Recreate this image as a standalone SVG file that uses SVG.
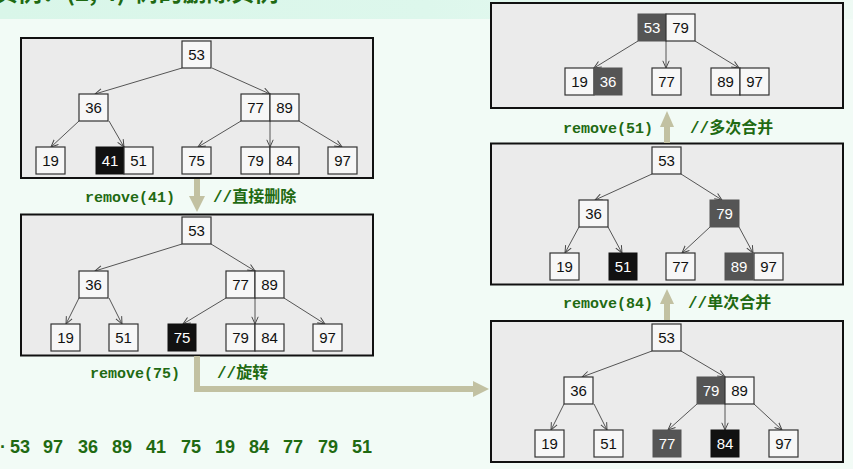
<svg xmlns="http://www.w3.org/2000/svg" width="853" height="469" viewBox="0 0 853 469">
<defs>
<linearGradient id="band" x1="0" y1="0" x2="1" y2="0">
<stop offset="0" stop-color="#d9f6e9"/>
<stop offset="0.5" stop-color="#ddf7ec"/>
<stop offset="1" stop-color="#eefaf4"/>
</linearGradient>
<marker id="ah" viewBox="0 0 10 10" refX="9.5" refY="5" markerWidth="8" markerHeight="8" orient="auto" markerUnits="userSpaceOnUse">
<path d="M0.5,1 L9.5,5 L0.5,9" fill="none" stroke="#444" stroke-width="1.2"/>
</marker>
<style>
.panel{fill:#ebebeb;stroke:#111;stroke-width:2}
.k{fill:#f7f7f7;stroke:#333;stroke-width:1.2}
.kd{fill:#555;stroke:#555;stroke-width:1}
.kb{fill:#111;stroke:#111;stroke-width:1}
.t{font-family:"Liberation Sans",Arial,sans-serif;font-size:15px;fill:#111;text-anchor:middle}
.tw{font-family:"Liberation Sans",Arial,sans-serif;font-size:15px;fill:#fff;text-anchor:middle}
.e{fill:none;stroke:#555;stroke-width:1;marker-end:url(#ah)}
.big{fill:none;stroke:#c2c1a2;stroke-width:6}
.bighead{fill:#c2c1a2}
.lbl{font-family:"Liberation Mono","Courier New",monospace;font-size:15px;font-weight:bold;fill:#1f6a12}
.cm{font-family:"Liberation Mono","Noto Sans CJK SC",monospace;font-size:16px;font-weight:bold;fill:#1f6a12}
.seq{font-family:"Liberation Sans",Arial,sans-serif;font-size:18px;font-weight:bold;fill:#1f6a12}
</style>
</defs>

<rect x="0" y="0" width="853" height="469" fill="#f2fbf6"/>
<rect x="0" y="0" width="853" height="19" fill="url(#band)"/>
<text x="-6" y="0.5" font-family="'Noto Sans CJK SC',sans-serif" font-size="24" font-weight="bold" fill="#1f6a12">实例：(2, 4)-树的删除实例</text>

<!-- panels -->
<g id="panels">
<rect class="panel" x="21" y="38" width="352" height="140"/>
<rect class="panel" x="21" y="214.5" width="352" height="141"/>
<rect class="panel" x="491" y="3" width="352" height="105"/>
<rect class="panel" x="491" y="143.5" width="352" height="141"/>
<rect class="panel" x="491" y="321" width="352" height="141"/>
</g>

<!-- connectors -->
<g id="connectors">
<!-- left panel 1 -->
<line class="e" x1="182" y1="68" x2="95" y2="94"/>
<line class="e" x1="212" y1="68" x2="270" y2="94"/>
<line class="e" x1="79" y1="121" x2="51" y2="147"/>
<line class="e" x1="109" y1="121" x2="124" y2="147"/>
<line class="e" x1="241" y1="121" x2="198" y2="147"/>
<line class="e" x1="270" y1="121" x2="270" y2="147"/>
<line class="e" x1="299" y1="121" x2="342" y2="147"/>
<!-- left panel 2 -->
<line class="e" x1="182" y1="244" x2="95" y2="271"/>
<line class="e" x1="211" y1="244" x2="255" y2="271"/>
<line class="e" x1="79" y1="298" x2="66" y2="324"/>
<line class="e" x1="109" y1="298" x2="122" y2="324"/>
<line class="e" x1="226" y1="298" x2="183" y2="324"/>
<line class="e" x1="255" y1="298" x2="255" y2="324"/>
<line class="e" x1="284" y1="298" x2="325" y2="324"/>
<!-- right top -->
<line class="e" x1="638" y1="41" x2="594" y2="68"/>
<line class="e" x1="666" y1="41" x2="666" y2="68"/>
<line class="e" x1="695" y1="41" x2="739" y2="68"/>
<!-- right middle -->
<line class="e" x1="652" y1="174" x2="595" y2="200"/>
<line class="e" x1="681" y1="174" x2="722" y2="200"/>
<line class="e" x1="579" y1="227" x2="565" y2="253"/>
<line class="e" x1="608" y1="227" x2="622" y2="253"/>
<line class="e" x1="710" y1="227" x2="682" y2="253"/>
<line class="e" x1="739" y1="227" x2="753" y2="253"/>
<!-- right bottom -->
<line class="e" x1="652" y1="351" x2="582" y2="377"/>
<line class="e" x1="681" y1="351" x2="725" y2="377"/>
<line class="e" x1="564" y1="404" x2="551" y2="430"/>
<line class="e" x1="594" y1="404" x2="607" y2="430"/>
<line class="e" x1="697" y1="404" x2="668" y2="430"/>
<line class="e" x1="725" y1="404" x2="725" y2="430"/>
<line class="e" x1="754" y1="404" x2="782" y2="430"/>
<!-- big step arrows -->
<line class="big" x1="197" y1="179" x2="197" y2="198"/>
<polygon class="bighead" points="189,196 205,196 197,212"/>
<polyline class="big" points="197,356 197,389 474,389"/>
<polygon class="bighead" points="473,381 473,397 489,389"/>
<line class="big" x1="667" y1="320" x2="667" y2="302"/>
<polygon class="bighead" points="660,304 674,304 667,289"/>
<line class="big" x1="667" y1="143" x2="667" y2="125"/>
<polygon class="bighead" points="660,127 674,127 667,111"/>
</g>

<!-- left panel 1 nodes -->
<g id="L1-53"><rect class="k" x="182" y="41" width="29" height="27"/><text class="t" x="196.5" y="59.5">53</text></g>
<g id="L1-36"><rect class="k" x="79" y="94" width="29" height="27"/><text class="t" x="93.5" y="112.5">36</text></g>
<g id="L1-77-89"><rect class="k" x="241" y="94" width="29" height="27"/><rect class="k" x="270" y="94" width="29" height="27"/><text class="t" x="255.5" y="112.5">77</text><text class="t" x="284.5" y="112.5">89</text></g>
<g id="L1-19"><rect class="k" x="36" y="147" width="29" height="27"/><text class="t" x="50.5" y="165.5">19</text></g>
<g id="L1-41-51"><rect class="kb" x="96" y="147" width="28" height="27"/><rect class="k" x="124" y="147" width="29" height="27"/><text class="tw" x="110" y="165.5">41</text><text class="t" x="138.5" y="165.5">51</text></g>
<g id="L1-75"><rect class="k" x="182" y="147" width="29" height="27"/><text class="t" x="196.5" y="165.5">75</text></g>
<g id="L1-79-84"><rect class="k" x="241" y="147" width="29" height="27"/><rect class="k" x="270" y="147" width="29" height="27"/><text class="t" x="255.5" y="165.5">79</text><text class="t" x="284.5" y="165.5">84</text></g>
<g id="L1-97"><rect class="k" x="328" y="147" width="29" height="27"/><text class="t" x="342.5" y="165.5">97</text></g>

<!-- left panel 2 nodes -->
<g id="L2-53"><rect class="k" x="182" y="217" width="29" height="27"/><text class="t" x="196.5" y="235.5">53</text></g>
<g id="L2-36"><rect class="k" x="79" y="271" width="29" height="27"/><text class="t" x="93.5" y="289.5">36</text></g>
<g id="L2-77-89"><rect class="k" x="226" y="271" width="29" height="27"/><rect class="k" x="255" y="271" width="29" height="27"/><text class="t" x="240.5" y="289.5">77</text><text class="t" x="269.5" y="289.5">89</text></g>
<g id="L2-19"><rect class="k" x="51" y="324" width="29" height="27"/><text class="t" x="65.5" y="342.5">19</text></g>
<g id="L2-51"><rect class="k" x="109" y="324" width="29" height="27"/><text class="t" x="123.5" y="342.5">51</text></g>
<g id="L2-75"><rect class="kb" x="168" y="324" width="28" height="27"/><text class="tw" x="182" y="342.5">75</text></g>
<g id="L2-79-84"><rect class="k" x="226" y="324" width="29" height="27"/><rect class="k" x="255" y="324" width="29" height="27"/><text class="t" x="240.5" y="342.5">79</text><text class="t" x="269.5" y="342.5">84</text></g>
<g id="L2-97"><rect class="k" x="313" y="324" width="29" height="27"/><text class="t" x="327.5" y="342.5">97</text></g>

<!-- right top nodes -->
<g id="R1-53-79"><rect class="kd" x="638" y="14" width="28" height="27"/><rect class="k" x="666" y="14" width="29" height="27"/><text class="tw" x="652" y="32.5">53</text><text class="t" x="680.5" y="32.5">79</text></g>
<g id="R1-19-36"><rect class="k" x="565" y="68" width="29" height="27"/><rect class="kd" x="594" y="68" width="28" height="27"/><text class="t" x="579.5" y="86.5">19</text><text class="tw" x="608" y="86.5">36</text></g>
<g id="R1-77"><rect class="k" x="652" y="68" width="29" height="27"/><text class="t" x="666.5" y="86.5">77</text></g>
<g id="R1-89-97"><rect class="k" x="711" y="68" width="29" height="27"/><rect class="k" x="740" y="68" width="29" height="27"/><text class="t" x="725.5" y="86.5">89</text><text class="t" x="754.5" y="86.5">97</text></g>

<!-- right middle nodes -->
<g id="R2-53"><rect class="k" x="652" y="147" width="29" height="27"/><text class="t" x="666.5" y="165.5">53</text></g>
<g id="R2-36"><rect class="k" x="579" y="200" width="29" height="27"/><text class="t" x="593.5" y="218.5">36</text></g>
<g id="R2-79"><rect class="kd" x="710" y="200" width="29" height="27"/><text class="tw" x="724.5" y="218.5">79</text></g>
<g id="R2-19"><rect class="k" x="550" y="253" width="29" height="27"/><text class="t" x="564.5" y="271.5">19</text></g>
<g id="R2-51"><rect class="kb" x="609" y="253" width="28" height="27"/><text class="tw" x="623" y="271.5">51</text></g>
<g id="R2-77"><rect class="k" x="666" y="253" width="29" height="27"/><text class="t" x="680.5" y="271.5">77</text></g>
<g id="R2-89-97"><rect class="kd" x="725" y="253" width="28" height="27"/><rect class="k" x="754" y="253" width="29" height="27"/><text class="tw" x="739" y="271.5">89</text><text class="t" x="768.5" y="271.5">97</text></g>

<!-- right bottom nodes -->
<g id="R3-53"><rect class="k" x="652" y="324" width="29" height="27"/><text class="t" x="666.5" y="342.5">53</text></g>
<g id="R3-36"><rect class="k" x="564" y="377" width="29" height="27"/><text class="t" x="578.5" y="395.5">36</text></g>
<g id="R3-79-89"><rect class="kd" x="697" y="377" width="28" height="27"/><rect class="k" x="725" y="377" width="29" height="27"/><text class="tw" x="711" y="395.5">79</text><text class="t" x="739.5" y="395.5">89</text></g>
<g id="R3-19"><rect class="k" x="535" y="430" width="29" height="27"/><text class="t" x="549.5" y="448.5">19</text></g>
<g id="R3-51"><rect class="k" x="594" y="430" width="29" height="27"/><text class="t" x="608.5" y="448.5">51</text></g>
<g id="R3-77"><rect class="kd" x="653" y="430" width="28" height="27"/><text class="tw" x="667" y="448.5">77</text></g>
<g id="R3-84"><rect class="kb" x="711" y="430" width="28" height="27"/><text class="tw" x="725" y="448.5">84</text></g>
<g id="R3-97"><rect class="k" x="769" y="430" width="29" height="27"/><text class="t" x="783.5" y="448.5">97</text></g>

<!-- labels -->
<g id="labels">
<text class="lbl" x="85" y="202">remove(41)</text>
<text class="cm" x="213" y="202">//直接删除</text>
<text class="lbl" x="90" y="378">remove(75)</text>
<text class="cm" x="217" y="378">//旋转</text>
<text class="lbl" x="563" y="133">remove(51)</text>
<text class="cm" x="690" y="133">//多次合并</text>
<text class="lbl" x="563" y="308">remove(84)</text>
<text class="cm" x="688" y="308">//单次合并</text>
</g>

<text class="seq" y="453"><tspan x="0">·</tspan><tspan x="10">53</tspan><tspan x="43">97</tspan><tspan x="78">36</tspan><tspan x="112">89</tspan><tspan x="146">41</tspan><tspan x="181">75</tspan><tspan x="215">19</tspan><tspan x="249">84</tspan><tspan x="283">77</tspan><tspan x="318">79</tspan><tspan x="352">51</tspan></text>
</svg>
